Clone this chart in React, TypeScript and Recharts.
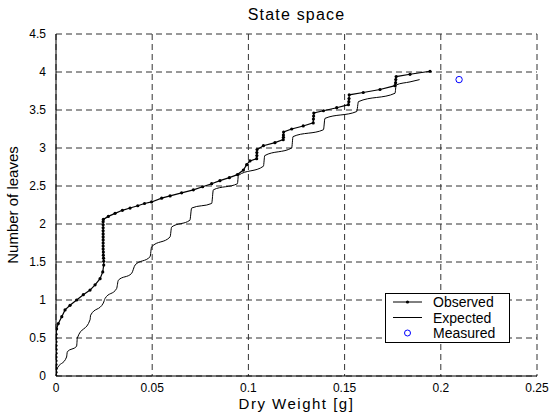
import React from 'react'
import { ComposedChart, Line, Scatter, XAxis, YAxis, CartesianGrid, Legend } from 'recharts'

const xTicks = [0, 0.05, 0.1, 0.15, 0.2, 0.25]
const yTicks = [0, 0.5, 1, 1.5, 2, 2.5, 3, 3.5, 4, 4.5]

// observed trajectory (dots at every sample)
const observedX = [
  0, 0, 0, 0, 0, 0, 0, 0, 0, 0, 0, 0, 0.0003,
  0.0012, 0.003, 0.0047, 0.0073, 0.0107, 0.0142, 0.0177, 0.0203, 0.0229, 0.0243, 0.0248,
  0.0248, 0.0247, 0.0246, 0.0246, 0.0245, 0.0245, 0.0245, 0.0245, 0.0245, 0.0245, 0.0245, 0.0245, 0.0245, 0.0245, 0.0246,
  0.0272, 0.0307, 0.0345, 0.0385, 0.0425, 0.046, 0.0497, 0.0549, 0.0593, 0.0653, 0.0714, 0.0762, 0.0809, 0.0852, 0.0901, 0.0943,
  0.0974, 0.0991, 0.1008, 0.1043, 0.1044, 0.1044, 0.1045,
  0.1078, 0.1138, 0.1181, 0.1182, 0.1182, 0.1183,
  0.1225, 0.1285, 0.1337, 0.1338, 0.1339, 0.1340,
  0.139, 0.1459, 0.152, 0.1522, 0.1523, 0.1524,
  0.1597, 0.1684, 0.1762, 0.1765, 0.1766, 0.1768,
  0.184, 0.1944,
]
const observedY = [
  0, 0.05, 0.1, 0.15, 0.2, 0.25, 0.3, 0.35, 0.4, 0.45, 0.5, 0.55, 0.62,
  0.69, 0.78, 0.87, 0.93, 1.0, 1.07, 1.13, 1.2, 1.28, 1.37, 1.46,
  1.51, 1.55, 1.59, 1.63, 1.67, 1.71, 1.75, 1.79, 1.83, 1.87, 1.91, 1.95, 1.99, 2.03, 2.06,
  2.1, 2.14, 2.18, 2.21, 2.24, 2.27, 2.29, 2.34, 2.37, 2.41, 2.45, 2.49, 2.53, 2.57, 2.61, 2.65,
  2.71, 2.78, 2.83, 2.86, 2.9, 2.94, 2.98,
  3.03, 3.07, 3.11, 3.14, 3.17, 3.21,
  3.25, 3.29, 3.33, 3.38, 3.42, 3.46,
  3.49, 3.53, 3.57, 3.61, 3.65, 3.7,
  3.73, 3.77, 3.82, 3.86, 3.9, 3.94,
  3.97, 4.01,
]

// expected trajectory (thin line)
const expectedX = [
  0, 0.0003, 0.0055, 0.0059, 0.0107, 0.0111, 0.0177, 0.018, 0.0246, 0.0255, 0.0315, 0.0324,
  0.0393, 0.0411, 0.0489, 0.0497, 0.0593, 0.0601, 0.0696, 0.0705, 0.0809, 0.0818, 0.0943, 0.0948,
  0.1078, 0.1085, 0.1225, 0.1232, 0.139, 0.1398, 0.1563, 0.1572, 0.1762, 0.1768, 0.184, 0.189,
]
const expectedY = [
  0, 0.08, 0.25, 0.32, 0.39, 0.5, 0.74, 0.8, 0.96, 1.02, 1.15, 1.26,
  1.35, 1.46, 1.57, 1.7, 1.83, 1.96, 2.05, 2.21, 2.27, 2.45, 2.53, 2.64,
  2.76, 2.9, 3.0, 3.15, 3.24, 3.39, 3.48, 3.61, 3.72, 3.83, 3.87, 3.9,
]

const measuredX = [0.2095]
const measuredY = [3.9]

const observed = observedX.map((x, i) => ({ x, y: observedY[i] }))
const expected = expectedX.map((x, i) => ({ x, y: expectedY[i] }))
const measured = measuredX.map((x, i) => ({ x, y: measuredY[i] }))

const font = 'Arial, "Liberation Sans", sans-serif'

const ObsDot = (props: any) => {
  const { cx, cy } = props
  if (cx == null || cy == null) return null
  return <circle cx={cx} cy={cy} r={1.6} fill="#000" />
}

const MeasDot = (props: any) => {
  const { cx, cy } = props
  return <circle cx={cx} cy={cy} r={3.2} fill="none" stroke="#0000ff" strokeWidth={1} />
}

const renderLegend = () => (
  <div
    style={{
      border: '1px solid #000',
      background: '#fff',
      width: 125,
      height: 50,
      boxSizing: 'border-box',
      fontFamily: font,
      color: '#000',
    }}
  >
    <svg width={123} height={48} style={{ position: 'absolute', left: 1, top: 1 }}>
      <line x1={7} y1={8} x2={36} y2={8} stroke="#000" />
      <circle cx={21.5} cy={8} r={1.6} fill="#000" />
      <line x1={7} y1={23.5} x2={36} y2={23.5} stroke="#000" />
      <circle cx={21.5} cy={39} r={3} fill="none" stroke="#0000ff" />
      <text x={47} y={13} fontSize={14} fontFamily={font}>Observed</text>
      <text x={47} y={28.5} fontSize={14} fontFamily={font}>Expected</text>
      <text x={47} y={44} fontSize={14} fontFamily={font}>Measured</text>
    </svg>
  </div>
)

export default function App() {
  return (
    <div style={{ position: 'absolute', left: 0, top: 0, width: 553, height: 415, background: '#fff' }}>
      <div
        style={{
          position: 'absolute',
          left: 56,
          width: 481,
          top: 6,
          textAlign: 'center',
          fontFamily: font,
          fontSize: 16,
          letterSpacing: 1.2,
          color: '#000',
        }}
      >
        State space
      </div>
      <ComposedChart width={553} height={415} margin={{ top: 34, right: 16, bottom: 0, left: 0 }}>
        <CartesianGrid
          stroke="#333"
          strokeDasharray="6 4"
          horizontalValues={yTicks}
          verticalValues={xTicks}
        />
        <XAxis
          type="number"
          dataKey="x"
          domain={[0, 0.25]}
          ticks={xTicks}
          tickFormatter={(v: number) => String(v)}
          height={39}
          allowDataOverflow
          axisLine={{ stroke: '#000' }}
          tickLine={false}
          tickMargin={1}
          tick={{ fill: '#000', fontSize: 12, fontFamily: font }}
          label={{ value: 'Dry Weight [g]', position: 'insideBottom', offset: 6, fill: '#000', fontSize: 15, fontFamily: font, letterSpacing: 1.5 }}
        />
        <YAxis
          type="number"
          dataKey="y"
          domain={[0, 4.5]}
          ticks={yTicks}
          width={56}
          allowDataOverflow
          axisLine={{ stroke: '#000' }}
          tickLine={false}
          tickMargin={4}
          tick={{ fill: '#000', fontSize: 12, fontFamily: font }}
          label={{ value: 'Number of leaves', angle: -90, position: 'insideLeft', offset: 13, fill: '#000', fontSize: 15, fontFamily: font, style: { textAnchor: 'middle' } }}
        />
        <Line
          data={expected}
          dataKey="y"
          name="Expected"
          type="monotone"
          stroke="#000"
          strokeWidth={1}
          dot={false}
          isAnimationActive={false}
        />
        <Line
          data={observed}
          dataKey="y"
          name="Observed"
          type="linear"
          stroke="#000"
          strokeWidth={1.2}
          dot={<ObsDot />}
          isAnimationActive={false}
        />
        <Scatter
          data={measured}
          dataKey="y"
          name="Measured"
          shape={<MeasDot />}
          isAnimationActive={false}
        />
        <Legend
          layout="vertical"
          align="center"
          verticalAlign="middle"
          content={renderLegend}
          wrapperStyle={{ position: 'absolute', left: 385, top: 293, width: 125, height: 50 }}
        />
      </ComposedChart>
    </div>
  )
}
